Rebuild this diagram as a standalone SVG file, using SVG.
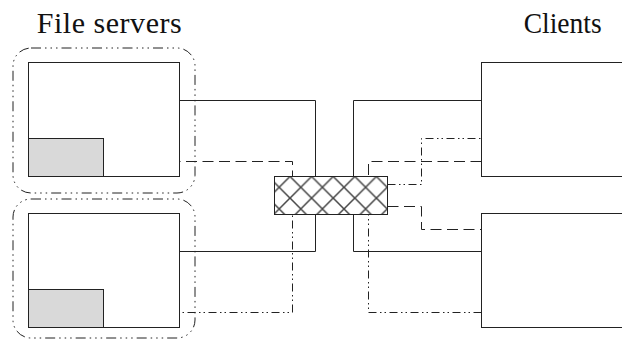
<svg xmlns="http://www.w3.org/2000/svg" width="622" height="340" viewBox="0 0 622 340">
<style>
.box{fill:#fff;stroke:#222;stroke-width:1}
.store{fill:#d9d9d9;stroke:#222;stroke-width:1}
.grp{fill:none;stroke:#222;stroke-width:1;stroke-dasharray:10 4 1.5 4 1.5 4 1.5 4}
.solid{fill:none;stroke:#222;stroke-width:1}
.dash{fill:none;stroke:#222;stroke-width:1;stroke-dasharray:11 5.5}
.dashdot{fill:none;stroke:#222;stroke-width:1;stroke-dasharray:8 3.5 1.5 3 1.5 3.5}
.label{font-family:"Liberation Serif","Times New Roman",serif;font-size:30px;fill:#111}
</style>
<defs>
<pattern id="hatch" patternUnits="userSpaceOnUse" x="290" y="176.5" width="21.6" height="21.6">
<path d="M-2,-2 L23.6,23.6 M23.6,-2 L-2,23.6" stroke="#444" stroke-width="1.5" fill="none"/>
</pattern>
</defs>
<rect width="622" height="340" fill="#fff"/>
<text class="label" x="36.7" y="33" textLength="145" lengthAdjust="spacing">File servers</text>
<text class="label" x="601.7" y="33" text-anchor="end" textLength="78" lengthAdjust="spacingAndGlyphs">Clients</text>
<g id="connectors">
<path class="solid" d="M179.5,100.5 H315.5 V176.5"/>
<path class="solid" d="M179.5,251.5 H315.5 V214.5"/>
<path class="solid" d="M481.5,100.5 H353.5 V176.5"/>
<path class="solid" d="M481.5,251.5 H353.5 V214.5"/>
<path class="dash" d="M103.5,161.5 H292.5 V176.5"/>
<path class="dash" d="M481.5,161.5 H368.5 V176.5"/>
<path class="dashdot" d="M103.5,312.5 H292.5 V214.5"/>
<path class="dashdot" d="M481.5,312.5 H368.5 V214.5"/>
<path class="dashdot" d="M387.5,184.5 H421.5 V138.5 H481.5"/>
<path class="dash" d="M387.5,206.5 H421.5 V229.5 H481.5"/>
</g>
<g id="group1"><rect class="grp" x="13" y="48" width="182" height="145" rx="18"/></g>
<g id="group2"><rect class="grp" x="13" y="199" width="182" height="139" rx="18"/></g>
<g id="server1">
<rect class="box" x="28.5" y="62.5" width="151" height="114"/>
<rect class="store" x="28.5" y="138.5" width="75" height="38"/>
</g>
<g id="server2">
<rect class="box" x="28.5" y="213.5" width="151" height="114"/>
<rect class="store" x="28.5" y="289.5" width="75" height="38"/>
</g>
<g id="network">
<rect x="274.5" y="176.5" width="113" height="38" fill="url(#hatch)" stroke="#222" stroke-width="1"/>
</g>
<g id="client1"><rect class="box" x="481.5" y="62.5" width="150" height="114"/></g>
<g id="client2"><rect class="box" x="481.5" y="213.5" width="150" height="114"/></g>
</svg>
